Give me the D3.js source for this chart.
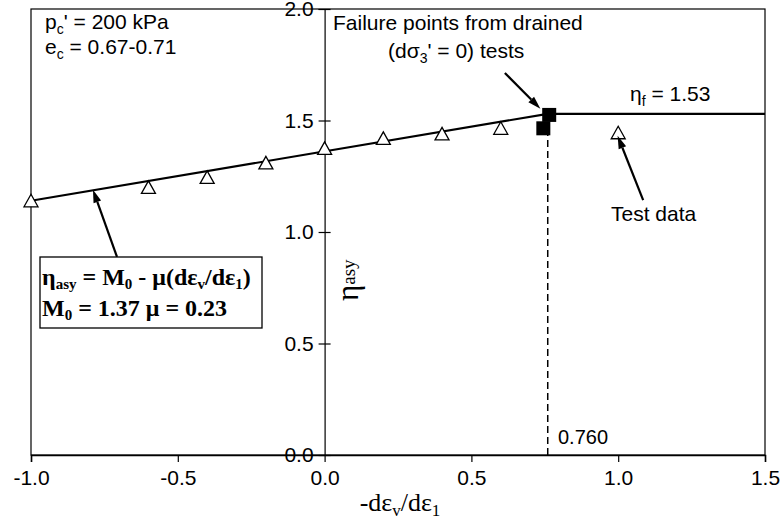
<!DOCTYPE html>
<html>
<head>
<meta charset="utf-8">
<script src="https://cdn.jsdelivr.net/npm/d3@7/dist/d3.min.js"></script>
<style>
  html, body { margin: 0; padding: 0; background: #fff; }
  svg { display: block; font-family: Arial, "Liberation Sans", sans-serif; }
</style>
</head>
<body>
<svg id="chart" width="781" height="530"></svg>
<script>
// ---- data ----
const testX = [-1.0, -0.6, -0.4, -0.2, 0.0, 0.2, 0.4, 0.6, 1.0];
const testY = [1.14, 1.20, 1.245, 1.31, 1.375, 1.42, 1.44, 1.465, 1.445];
const failX = [0.765, 0.745];
const failY = [1.525, 1.465];
const fitLineX = [-1.0, 0.76];
const fitLineY = [1.14, 1.53];
const etaF = 1.53;
const xPhase = 0.760;
const xTicks = [-1.0, -0.5, 0.0, 0.5, 1.0, 1.5];
const yTicks = [0.0, 0.5, 1.0, 1.5, 2.0];

const svg = d3.select("#chart");
const M = {left: 31, right: 765, top: 9, bottom: 455};
const x = d3.scaleLinear().domain([-1, 1.5]).range([M.left, M.right]);
const y = d3.scaleLinear().domain([0, 2]).range([M.bottom, M.top]);
const fmt = d => d.toFixed(1);
const sans = "Arial, 'Liberation Sans', sans-serif";
const serif = "'Liberation Serif', 'Times New Roman', serif";

// frame
svg.append("rect").attr("x", M.left).attr("y", M.top)
  .attr("width", M.right - M.left).attr("height", M.bottom - M.top)
  .attr("fill", "none").attr("stroke", "#000").attr("stroke-width", 1.2);

// x axis (bottom)
const xAxis = d3.axisBottom(x).tickValues(xTicks).tickFormat(fmt).tickSizeOuter(0).tickSize(7).tickPadding(8);
const gx = svg.append("g").attr("transform", `translate(0,${M.bottom})`).call(xAxis);
gx.attr("font-family", sans).attr("font-size", 21);
gx.select(".domain").attr("stroke-width", 1.5);
gx.selectAll(".tick line").attr("stroke-width", 1.2);

// y axis at x=0
const yAxis = d3.axisLeft(y).tickValues(yTicks).tickFormat(fmt).tickSizeOuter(0).tickSize(6).tickPadding(5);
const gy = svg.append("g").attr("transform", `translate(${x(0)},0)`).call(yAxis);
gy.attr("font-family", sans).attr("font-size", 21);
gy.select(".domain").attr("stroke-width", 1.2);
gy.selectAll(".tick line").attr("x1", 6).attr("stroke-width", 1.2);

// dashed vertical line at phase transformation
svg.append("line")
  .attr("x1", x(xPhase)).attr("x2", x(xPhase))
  .attr("y1", y(0)).attr("y2", y(failY[1]))
  .attr("stroke", "#000").attr("stroke-width", 1.5).attr("stroke-dasharray", "7,4");

// fitted line
svg.append("line")
  .attr("x1", x(fitLineX[0])).attr("y1", y(fitLineY[0]))
  .attr("x2", x(fitLineX[1])).attr("y2", y(fitLineY[1]))
  .attr("stroke", "#000").attr("stroke-width", 2.2);
// eta_f horizontal line
svg.append("line")
  .attr("x1", x(fitLineX[1])).attr("y1", y(etaF))
  .attr("x2", x(1.5)).attr("y2", y(etaF))
  .attr("stroke", "#000").attr("stroke-width", 2.2);

// test data triangles
const tri = testX.map((d, i) => ({x: d, y: testY[i]}));
svg.append("g").selectAll("path").data(tri).join("path")
  .attr("d", d => {
    const cx = x(d.x), cy = y(d.y);
    return `M${cx},${cy - 6.5}L${cx + 7},${cy + 6}L${cx - 7},${cy + 6}Z`;
  })
  .attr("fill", "#fff").attr("stroke", "#000").attr("stroke-width", 1.3);

// failure squares
const fail = failX.map((d, i) => ({x: d, y: failY[i]}));
svg.append("g").selectAll("rect").data(fail).join("rect")
  .attr("x", d => x(d.x) - 7).attr("y", d => y(d.y) - 7)
  .attr("width", 14).attr("height", 14).attr("fill", "#000");

// arrows
function arrow(x0, y0, x1, y1) {
  const X0 = x(x0), Y0 = y(y0), X1 = x(x1), Y1 = y(y1);
  const ang = Math.atan2(Y1 - Y0, X1 - X0);
  const L = 13, W = 4;
  const bx = X1 - L * Math.cos(ang), by = Y1 - L * Math.sin(ang);
  svg.append("line").attr("x1", X0).attr("y1", Y0).attr("x2", bx).attr("y2", by)
    .attr("stroke", "#000").attr("stroke-width", 2.2);
  const px = -Math.sin(ang) * W, py = Math.cos(ang) * W;
  svg.append("path")
    .attr("d", `M${X1},${Y1}L${bx + px},${by + py}L${bx - px},${by - py}Z`)
    .attr("fill", "#000");
}
arrow(-0.707, 0.888, -0.789, 1.19);
arrow(0.614, 1.713, 0.735, 1.553);
arrow(1.085, 1.143, 0.998, 1.432);

// text annotations
let t = svg.append("text").attr("x", 45).attr("y", 29).attr("font-size", 21).attr("font-family", sans);
t.append("tspan").text("p");
t.append("tspan").text("c").attr("font-size", 14).attr("dy", 5);
t.append("tspan").text("' = 200 kPa").attr("dy", -5);

t = svg.append("text").attr("x", 45).attr("y", 54).attr("font-size", 21).attr("font-family", sans);
t.append("tspan").text("e");
t.append("tspan").text("c").attr("font-size", 14).attr("dy", 5);
t.append("tspan").text(" = 0.67-0.71").attr("dy", -5);

svg.append("text").attr("x", 333).attr("y", 30).attr("font-size", 21).attr("font-family", sans).text("Failure points from drained");
t = svg.append("text").attr("x", 388).attr("y", 58).attr("font-size", 21).attr("font-family", sans);
t.append("tspan").text("(dσ");
t.append("tspan").text("3").attr("font-size", 14).attr("dy", 5);
t.append("tspan").text("' = 0) tests").attr("dy", -5);

t = svg.append("text").attr("x", 630).attr("y", 101).attr("font-size", 21).attr("font-family", sans);
t.append("tspan").text("η");
t.append("tspan").text("f").attr("font-size", 14).attr("dy", 5);
t.append("tspan").text(" = 1.53").attr("dy", -5);

svg.append("text").attr("x", 611).attr("y", 221).attr("font-size", 21).attr("font-family", sans).text("Test data");

svg.append("text").attr("x", 558).attr("y", 444).attr("font-size", 20).attr("font-family", sans).text("0.760");

// equation box
svg.append("rect").attr("x", 40).attr("y", 257).attr("width", 222).attr("height", 71)
  .attr("fill", "#fff").attr("stroke", "#000").attr("stroke-width", 1.3);
t = svg.append("text").attr("x", 42).attr("y", 285).attr("font-size", 24)
  .attr("font-weight", "bold").attr("font-family", serif);
t.append("tspan").text("η");
t.append("tspan").text("asy").attr("font-size", 15).attr("dy", 4);
t.append("tspan").text(" = M").attr("dy", -4);
t.append("tspan").text("0").attr("font-size", 15).attr("dy", 4);
t.append("tspan").text(" - μ(dε").attr("dy", -4);
t.append("tspan").text("v").attr("font-size", 15).attr("dy", 4);
t.append("tspan").text("/dε").attr("dy", -4);
t.append("tspan").text("1").attr("font-size", 15).attr("dy", 4);
t.append("tspan").text(")").attr("dy", -4);

t = svg.append("text").attr("x", 42).attr("y", 316).attr("font-size", 24)
  .attr("font-weight", "bold").attr("font-family", serif);
t.append("tspan").text("M");
t.append("tspan").text("0").attr("font-size", 15).attr("dy", 4);
t.append("tspan").text(" = 1.37 μ = 0.23").attr("dy", -4);

// y axis label (rotated)
t = svg.append("text").attr("transform", `translate(358,301) rotate(-90)`)
  .attr("font-family", serif).attr("font-size", 31);
t.append("tspan").text("η");
t.append("tspan").text("asy").attr("font-size", 19).attr("dy", -3);

// x axis label
t = svg.append("text").attr("x", 400).attr("y", 511).attr("text-anchor", "middle")
  .attr("font-family", serif).attr("font-size", 26);
t.append("tspan").text("-dε");
t.append("tspan").text("v").attr("font-size", 17).attr("dy", 5);
t.append("tspan").text("/dε").attr("dy", -5);
t.append("tspan").text("1").attr("font-size", 17).attr("dy", 5);
</script>
</body>
</html>
